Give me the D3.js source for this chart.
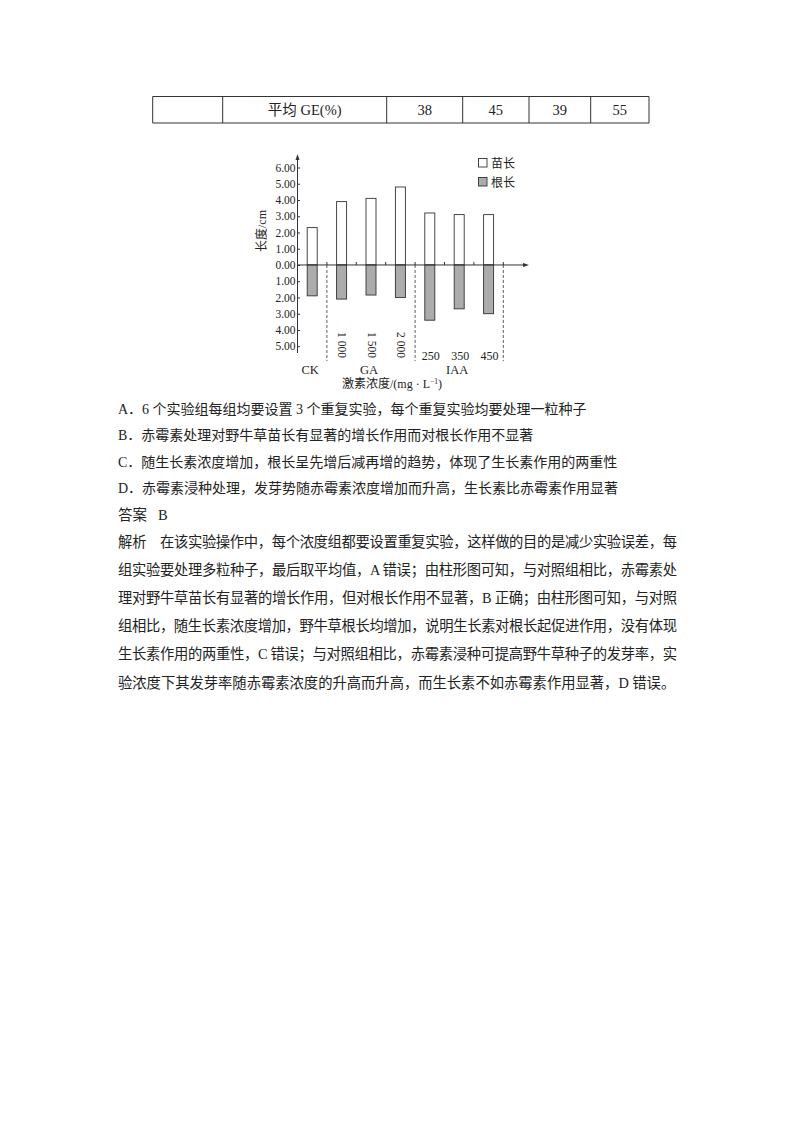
<!DOCTYPE html>
<html>
<head>
<meta charset="utf-8">
<script src="https://cdn.jsdelivr.net/npm/d3@7"></script>
<style>
body{margin:0;background:#fff;}
svg text{font-family:"Liberation Serif","Noto Sans CJK SC",serif;fill:#222;}
</style>
</head>
<body>
<script>
// data
var groups=["CK","1 000","1 500","2 000","250","350","450"];
var shoot=[2.3,3.9,4.1,4.8,3.2,3.1,3.1];   // 苗长
var root=[1.9,2.1,1.85,2.0,3.4,2.7,3.0];   // 根长
var yTicks=[-5,-4,-3,-2,-1,0,1,2,3,4,5,6];
var tableRow=["","平均 GE(%)","38","45","39","55"];
var tableCols=[152.7,222.7,386.7,462.7,529,590.7,649];
var hormones=[{name:"CK",from:0,to:0},{name:"GA",from:1,to:3},{name:"IAA",from:4,to:6}];
var options=[
 "A．6 个实验组每组均要设置 3 个重复实验，每个重复实验均要处理一粒种子",
 "B．赤霉素处理对野牛草苗长有显著的增长作用而对根长作用不显著",
 "C．随生长素浓度增加，根长呈先增后减再增的趋势，体现了生长素作用的两重性",
 "D．赤霉素浸种处理，发芽势随赤霉素浓度增加而升高，生长素比赤霉素作用显著"
];
var analysis=[
 "在该实验操作中，每个浓度组都要设置重复实验，这样做的目的是减少实验误差，每",
 "组实验要处理多粒种子，最后取平均值，A 错误；由柱形图可知，与对照组相比，赤霉素处",
 "理对野牛草苗长有显著的增长作用，但对根长作用不显著，B 正确；由柱形图可知，与对照",
 "组相比，随生长素浓度增加，野牛草根长均增加，说明生长素对根长起促进作用，没有体现",
 "生长素作用的两重性，C 错误；与对照组相比，赤霉素浸种可提高野牛草种子的发芽率，实",
 "验浓度下其发芽率随赤霉素浓度的升高而升高，而生长素不如赤霉素作用显著，D 错误。"
];

var svg=d3.select("body").append("svg").attr("width",800).attr("height",1132);
svg.append("rect").attr("width",800).attr("height",1132).attr("fill","#fff");

// table row
var tb=svg.append("g");
tb.append("line").attr("x1",tableCols[0]).attr("x2",tableCols[6]).attr("y1",96.5).attr("y2",96.5).attr("stroke","#333");
tb.append("line").attr("x1",tableCols[0]).attr("x2",tableCols[6]).attr("y1",123).attr("y2",123).attr("stroke","#333");
tableCols.forEach(function(c){
	tb.append("line").attr("x1",c).attr("x2",c).attr("y1",96.5).attr("y2",123).attr("stroke","#333");
});
tableRow.forEach(function(t,i){
	tb.append("text").text(t).attr("x",(tableCols[i]+tableCols[i+1])/2).attr("y",114.5)
		.attr("text-anchor","middle").attr("font-size",14.5);
});

// chart
var x=d3.scaleBand().domain(groups).range([297.5,503.3]).paddingInner(0.66).paddingOuter(0.33);
var y=d3.scaleLinear().domain([-5,6]).range([346.2,167.5]);
var step=x.step(), x0=x.range()[0];
var ch=svg.append("g");

ch.selectAll(".shoot").data(shoot).enter().append("rect")
	.attr("x",function(d,i){return x(groups[i]);}).attr("width",x.bandwidth())
	.attr("y",function(d){return y(d);}).attr("height",function(d){return y(0)-y(d);})
	.attr("fill","#fff").attr("stroke","#333").attr("stroke-width",0.9);
ch.selectAll(".root").data(root).enter().append("rect")
	.attr("x",function(d,i){return x(groups[i]);}).attr("width",x.bandwidth())
	.attr("y",y(0)).attr("height",function(d){return y(-d)-y(0);})
	.attr("fill","#acacac").attr("stroke","#333").attr("stroke-width",0.9);

var yAxis=ch.append("g").attr("transform","translate("+x0+",0)")
	.call(d3.axisLeft(y).tickValues(yTicks).tickSize(-2.5).tickPadding(2)
		.tickFormat(function(d){return Math.abs(d).toFixed(2);}));
yAxis.select(".domain").remove();
yAxis.selectAll("text").attr("font-size",11.5).attr("font-family","Liberation Serif").attr("fill","#222");
yAxis.selectAll("line").attr("stroke","#333");

// axis lines with arrows
ch.append("line").attr("x1",x0).attr("x2",x0).attr("y1",158).attr("y2",353).attr("stroke","#333");
ch.append("path").attr("d","M"+x0+",154 l-2,6 l4,0 z").attr("fill","#333");
ch.append("line").attr("x1",x0).attr("x2",526).attr("y1",y(0)).attr("y2",y(0)).attr("stroke","#333");
ch.append("path").attr("d","M529,"+y(0)+" l-6,-2 l0,4 z").attr("fill","#333");

// boundary ticks and dashed group dividers
groups.forEach(function(g,i){
	var bx=x0+step*(i+1);
	ch.append("line").attr("x1",bx).attr("x2",bx).attr("y1",y(0)).attr("y2",y(0)-3).attr("stroke","#333");
});
[0,3,6].forEach(function(i){
	var bx=x0+step*(i+1);
	ch.append("line").attr("x1",bx).attr("x2",bx).attr("y1",y(0)).attr("y2",361)
		.attr("stroke","#333").attr("stroke-width",0.8).attr("stroke-dasharray","3,2");
});

// concentration labels
groups.forEach(function(g,i){
	var cx=x(g)+x.bandwidth()/2;
	if (i>=1 && i<=3) {
		ch.append("text").text(g).attr("transform","translate("+(cx-3.5)+",332) rotate(90)")
			.attr("font-size",11.5);
	} else if (i>=4) {
		ch.append("text").text(g).attr("x",cx+1).attr("y",360).attr("text-anchor","middle").attr("font-size",12);
	}
});
hormones.forEach(function(h){
	var cx=(x(groups[h.from])+x(groups[h.to])+x.bandwidth())/2;
	ch.append("text").text(h.name).attr("x",cx-2).attr("y",374).attr("text-anchor","middle").attr("font-size",12.5);
});
var tt=ch.append("text").attr("x",392).attr("y",388).attr("text-anchor","middle").attr("font-size",12);
tt.append("tspan").text("激素浓度/(mg · L");
tt.append("tspan").text("−1").attr("font-size",7.5).attr("dy",-4.5);
tt.append("tspan").text(")").attr("dy",4.5);

ch.append("text").text("长度/cm").attr("transform","translate(265.5,231) rotate(-90)")
	.attr("text-anchor","middle").attr("font-size",12);

// legend
var legend=[{label:"苗长",fill:"#fff"},{label:"根长",fill:"#acacac"}];
legend.forEach(function(l,i){
	ch.append("rect").attr("x",478.5).attr("y",158.5+i*19).attr("width",8.5).attr("height",8.5)
		.attr("fill",l.fill).attr("stroke","#333").attr("stroke-width",0.9);
	ch.append("text").text(l.label).attr("x",491).attr("y",167.5+i*19).attr("font-size",12);
});

// options
options.forEach(function(t,i){
	svg.append("text").text(t).attr("x",118).attr("y",413.5+i*26.5).attr("font-size",14);
});
svg.append("text").text("答案").attr("x",118).attr("y",520).attr("font-size",14.5)
	.attr("font-family","Noto Sans CJK SC");
svg.append("text").text("B").attr("x",158).attr("y",520).attr("font-size",14.5);

// analysis
svg.append("text").text("解析").attr("x",118).attr("y",547).attr("font-size",14.3)
	.attr("font-family","Noto Sans CJK SC");
analysis.forEach(function(t,i){
	var tx=svg.append("text").text(t).attr("x",i==0?160:118).attr("y",547+i*28.1)
		.attr("font-size",14.3).attr("font-family","Noto Sans CJK SC");
	if (i<analysis.length-1) tx.attr("textLength",i==0?517:559).attr("lengthAdjust","spacing");
});
</script>
</body>
</html>
